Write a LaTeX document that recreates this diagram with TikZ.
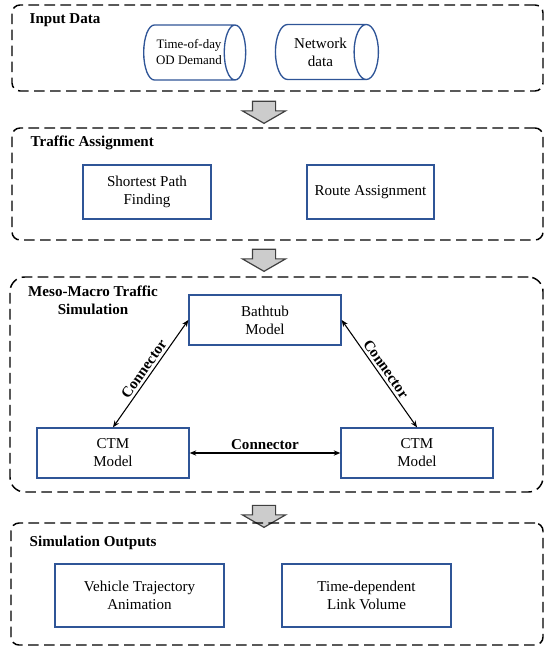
\documentclass[tikz,border=0pt]{standalone}
\usepackage{fontspec}
\setmainfont{Liberation Serif}
\usetikzlibrary{shapes.geometric, shapes.arrows, arrows.meta}

\definecolor{boxblue}{RGB}{47,85,151}

\tikzset{
	frame/.style={draw=black, line width=1.1pt, dash pattern=on 8pt off 4pt, rounded corners=6pt, inner sep=0pt},
	title/.style={font=\fontsize{11.3}{13.5}\selectfont\bfseries, align=center},
	modbox/.style={draw=boxblue, line width=1pt, align=center, inner sep=0pt, font=\fontsize{11.3}{13.5}\selectfont},
	datacyl/.style={shape=cylinder, draw=boxblue, line width=1pt, align=center, aspect=0.85, inner sep=0pt, font=\fontsize{11.3}{13.5}\selectfont},
	flow/.style={shape=single arrow, draw=black!75, fill=gray!40, line width=0.9pt, rotate=-90, inner xsep=0pt, inner ysep=8.25pt, single arrow head extend=7.5pt, single arrow tip angle=120, single arrow head indent=0pt, minimum height=16.5pt},
	link/.style={<->, >={Stealth[length=5pt, width=4pt]}, line width=0.8pt},
	linklabel/.style={font=\fontsize{11.3}{13.5}\selectfont\bfseries, inner sep=2pt}
}

\begin{document}
\begin{tikzpicture}[x=0.75pt, y=-0.75pt]
	\useasboundingbox (0,0) rectangle (543,648);

	% input data
	\node[frame, minimum width=398.25pt, minimum height=64.5pt]   (inFrame)  at (277.5,48)  {};
	\node[title, anchor=west]                                      (inTitle)  at (25,20)     {Input Data};
	\node[datacyl, minimum height=76.5pt, minimum width=41.25pt,
	      font=\fontsize{9.7}{12}\selectfont]                      (odDemand) at (189,52.5)  {Time-of-day\\OD Demand};
	\node[datacyl, minimum height=77.25pt, minimum width=41.25pt]  (network)  at (320.5,52)  {Network\\data};

	\node[flow] (flowA) at (264,109) {};

	% traffic assignment
	\node[frame, minimum width=398.25pt, minimum height=84pt]     (asgFrame) at (277.5,184) {};
	\node[title, anchor=west]                                      (asgTitle) at (26,143)    {Traffic Assignment};
	\node[modbox, minimum width=96pt, minimum height=40.5pt]       (spf)      at (147,192)   {Shortest Path\\Finding};
	\node[modbox, minimum width=95.25pt, minimum height=40.5pt]    (route)    at (370.5,192) {Route Assignment};

	\node[flow] (flowB) at (264,257) {};

	% meso-macro simulation
	\node[frame, rounded corners=11pt, minimum width=399.75pt, minimum height=161.25pt] (simFrame) at (276.5,384.5) {};
	\node[title]                                                   (simTitle) at (93,300)    {Meso-Macro Traffic\\Simulation};
	\node[modbox, minimum width=114pt, minimum height=37.5pt]      (bath)     at (265,320)   {Bathtub\\Model};
	\node[modbox, minimum width=114pt, minimum height=37.5pt]      (ctmL)     at (113,453)   {CTM\\Model};
	\node[modbox, minimum width=114pt, minimum height=37.5pt]      (ctmR)     at (417,453)   {CTM\\Model};

	\draw[link] (bath.west) -- (ctmL.north) node[midway, sloped, above, linklabel] {Connector};
	\draw[link] (bath.east) -- (ctmR.north) node[midway, sloped, above, linklabel] {Connector};
	\draw[link] (ctmL.east) -- (ctmR.west)  node[midway, above, linklabel]         {Connector};

	\node[flow] (flowC) at (264,513) {};

	% outputs
	\node[frame, minimum width=399pt, minimum height=91.5pt]      (outFrame) at (277,584)   {};
	\node[title, anchor=west]                                      (outTitle) at (25,543)    {Simulation Outputs};
	\node[modbox, minimum width=126.75pt, minimum height=47.25pt]  (traj)     at (139.5,595.5) {Vehicle Trajectory\\Animation};
	\node[modbox, minimum width=126.75pt, minimum height=47.25pt]  (volume)   at (366.5,595.5) {Time-dependent\\Link Volume};
\end{tikzpicture}
\end{document}
